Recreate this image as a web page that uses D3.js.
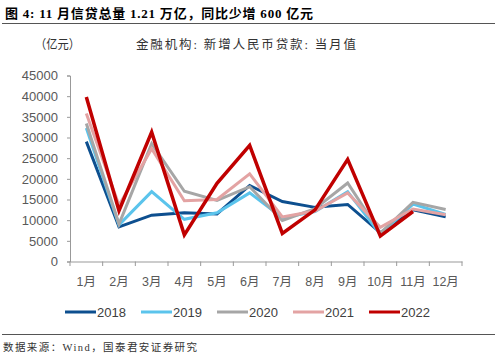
<!DOCTYPE html>
<html><head><meta charset="utf-8">
<script src="https://cdn.jsdelivr.net/npm/d3@7"></script>
<style>body{margin:0;background:#fff}svg{display:block}</style>
</head><body>
<script>
const months = ["1月","2月","3月","4月","5月","6月","7月","8月","9月","10月","11月","12月"];
const yTicks = [0,5000,10000,15000,20000,25000,30000,35000,40000,45000];
const s2018 = [29000,8393,11200,11800,11500,18400,14500,13100,13800,6970,12500,10800];
const s2019 = [32300,8858,16900,10200,11800,16600,10600,12100,16900,6613,13900,11400];
const s2020 = [33400,9057,28500,17000,14800,18100,9927,12800,19000,6898,14300,12600];
const s2021 = [35800,13600,27300,14700,15000,21200,10800,12200,16600,8262,12700,11300];
const s2022 = [39800,12300,31300,6454,18900,28100,6790,12500,24700,6152,12100];
const seriesNames = ["2018","2019","2020","2021","2022"];
const seriesData = [s2018,s2019,s2020,s2021,s2022];
const colors = ["#0d4f8f","#5bc4ec","#a6a6a6","#e3a3a3","#c00000"];

const W=500,H=355;
const svg=d3.select("body").append("svg").attr("width",W).attr("height",H);
const serif='"Liberation Serif","Noto Sans CJK SC",serif';
const sans='"Liberation Sans",Arial,"Noto Sans CJK SC",sans-serif';

svg.append("text").attr("x",5).attr("y",18).attr("font-family",serif).attr("font-weight","bold")
  .attr("font-size",13).attr("fill","#000").attr("textLength",308).attr("lengthAdjust","spacing")
  .text("图 4:  11 月信贷总量 1.21 万亿，同比少增 600 亿元");
svg.append("line").attr("x1",2).attr("x2",495).attr("y1",23.5).attr("y2",23.5).attr("stroke","#555").attr("stroke-width",1);
svg.append("text").attr("x",35).attr("y",49).attr("font-family",serif).attr("font-size",12.5).attr("fill","#333")
  .attr("textLength",45).attr("lengthAdjust","spacingAndGlyphs").text("（亿元）");
svg.append("text").attr("x",136).attr("y",49).attr("font-family",serif).attr("font-size",12.5).attr("fill","#333")
  .attr("textLength",220).attr("lengthAdjust","spacing").text("金融机构: 新增人民币贷款: 当月值");

const x=d3.scaleBand().domain(months).range([70,462]);
const y=d3.scaleLinear().domain([0,45000]).range([261.5,75.5]);

const ya=svg.append("g").attr("transform","translate(70,0)")
  .call(d3.axisLeft(y).tickValues(yTicks).tickSize(3).tickPadding(9).tickFormat(d3.format("d")));
ya.select(".domain").attr("stroke","#999");
ya.selectAll(".tick line").attr("stroke","#999");
ya.selectAll("text").attr("font-family",sans).attr("font-size",13).attr("fill","#595959");

const xa=svg.append("g").attr("transform","translate(0,261.5)")
  .call(d3.axisBottom(x).tickSize(0).tickPadding(16));
xa.select(".domain").attr("stroke","#999");
xa.selectAll("text").attr("font-family",sans).attr("font-size",12.5).attr("fill","#595959");
const bounds=months.map(m=>x(m)).concat([x.range()[1]]);
svg.append("g").selectAll("line").data(bounds).join("line")
  .attr("x1",d=>d).attr("x2",d=>d).attr("y1",261.5).attr("y2",266).attr("stroke","#999");

const line=d3.line().x((d,i)=>x(months[i])+x.bandwidth()/2).y(d=>y(d));
seriesData.forEach((s,k)=>{
  svg.append("path").attr("d",line(s)).attr("fill","none").attr("stroke",colors[k])
    .attr("stroke-width",k===4?3.5:3).attr("stroke-linejoin","miter");
});

const lg=svg.append("g");
seriesNames.forEach((n,k)=>{
  const x0=65+k*76;
  lg.append("line").attr("x1",x0).attr("x2",x0+31).attr("y1",312).attr("y2",312).attr("stroke",colors[k]).attr("stroke-width",3);
  lg.append("text").attr("x",x0+32).attr("y",317).attr("font-family",sans).attr("font-size",13).attr("fill","#404040").text(n);
});

svg.append("line").attr("x1",2).attr("x2",495).attr("y1",334.5).attr("y2",334.5).attr("stroke","#555").attr("stroke-width",1);
svg.append("text").attr("x",3).attr("y",351).attr("font-family",serif).attr("font-size",10.5).attr("fill","#333")
  .attr("textLength",194).attr("lengthAdjust","spacing").text("数据来源：Wind，国泰君安证券研究");
</script>
</body></html>
